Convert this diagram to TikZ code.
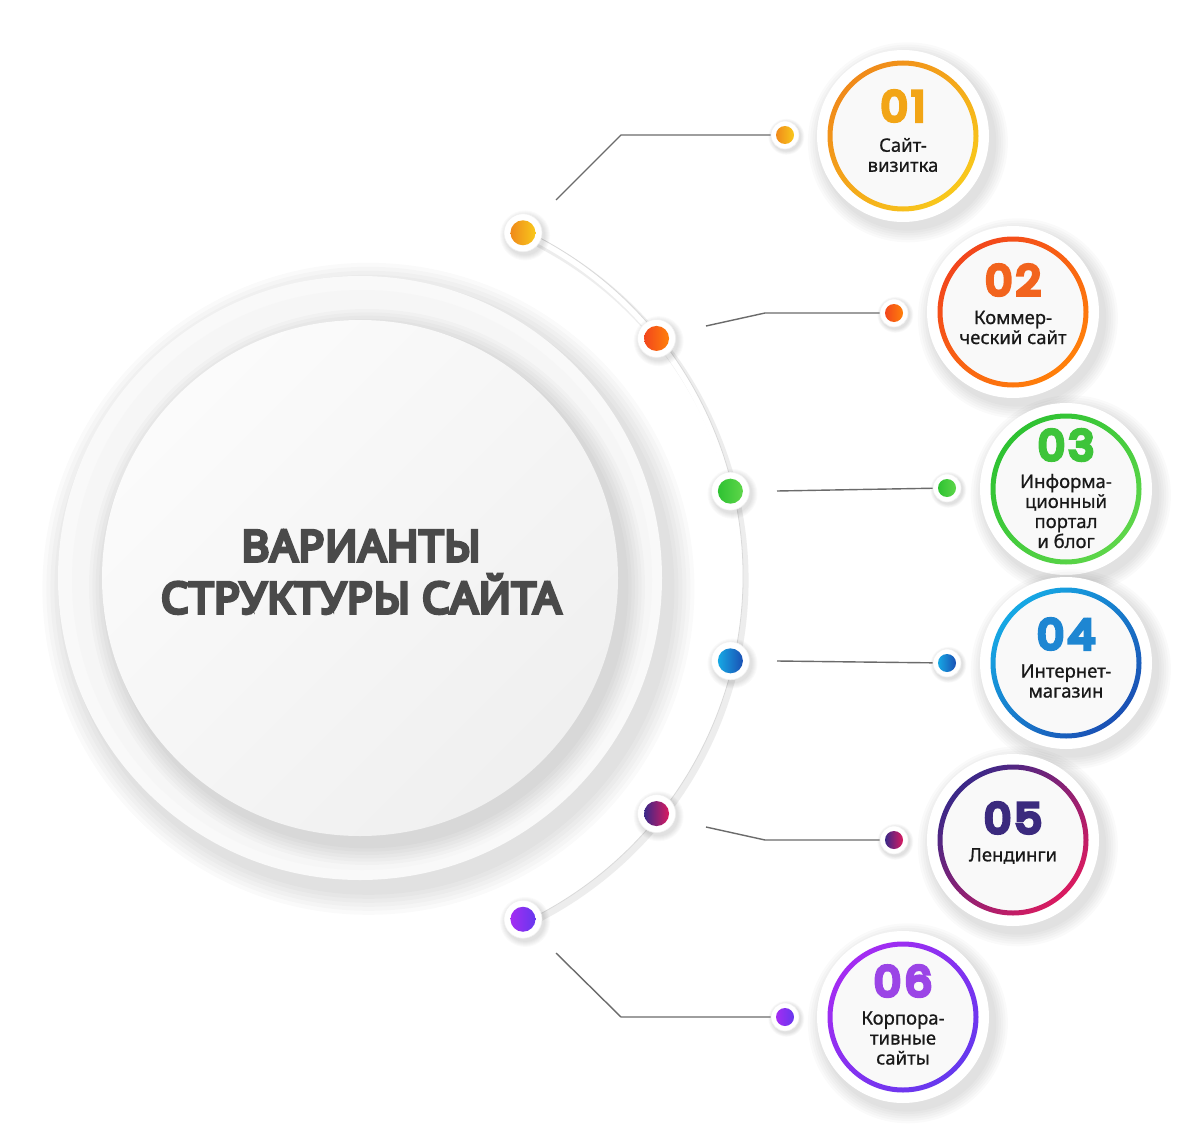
\documentclass[tikz,border=0pt]{standalone}
\usepackage{fontspec}
\setmainfont{Noto Sans}
\newfontfamily\numfont{Poppins}[FakeBold=10, FakeStretch=1.05, LetterSpace=9]
\newfontfamily\titlefont{Noto Sans}[FakeBold=8, LetterSpace=1.8]
\newfontfamily\labelfont{Noto Sans}[FakeBold=0.8]
\definecolor{ca1}{HTML}{F08A1A}
\definecolor{cb1}{HTML}{F8C81C}
\definecolor{cn1}{HTML}{F2A516}
\definecolor{ca2}{HTML}{F2461C}
\definecolor{cb2}{HTML}{FF800A}
\definecolor{cn2}{HTML}{F2641E}
\definecolor{ca3}{HTML}{2EC232}
\definecolor{cb3}{HTML}{5ED64A}
\definecolor{cn3}{HTML}{3EC43A}
\definecolor{ca4}{HTML}{16A8E4}
\definecolor{cb4}{HTML}{1A50B4}
\definecolor{cn4}{HTML}{1E86D2}
\definecolor{ca5}{HTML}{3A2888}
\definecolor{cb5}{HTML}{DA1B60}
\definecolor{cn5}{HTML}{3B2A7E}
\definecolor{ca6}{HTML}{A42CF2}
\definecolor{cb6}{HTML}{6538EE}
\definecolor{cn6}{HTML}{9B45E6}
\definecolor{titlegray}{HTML}{4A4A4A}
\definecolor{linkgray}{HTML}{6B6B6B}
\tikzset{
	ringdot/.style={circle, fill=white, draw=gray!12, line width=0.6, minimum size=#1, inner sep=0pt},
	colordot/.style 2 args={circle, minimum size=#2, inner sep=0pt, left color=ca#1, right color=cb#1},
	bigdisc/.style={circle, fill=white, minimum size=172, inner sep=0pt},
	numtext/.style={font=\numfont\fontsize{41}{41}\selectfont, inner sep=0pt},
	labeltext/.style={font=\labelfont\fontsize{18.5}{20}\selectfont, text=black!90, align=center, inner sep=0pt},
	titletext/.style={font=\titlefont\fontsize{43}{52}\selectfont, align=center, text=titlegray},
	link/.style={linkgray, line width=1.4}
}
% soft shadow: centre, radius, spread
\newcommand\softshadow[3]{%
	\foreach \k in {1,...,6}{\fill[black, opacity=0.018] ([shift={(#3*0.35,#3*0.45)}]#1) circle ({#2+\k*#3/6});}%
}
\begin{document}
\begin{tikzpicture}[x=1pt,y=-1pt]
	\useasboundingbox (0,0) rectangle (1200,1148);
	\fill[white] (0,0) rectangle (1200,1148);
	% % Central disc
	\softshadow{360,578}{302}{24}
	\fill[gray!5] (360,578) circle (302);
	\fill[gray!7] (362,580) circle (290);
	\softshadow{360,578}{258}{20}
	\shade[left color=gray!3, right color=gray!12, shading angle=45] (360,578) circle (258);
	\node[titletext] (title) at (361,572) {ВАРИАНТЫ\\СТРУКТУРЫ САЙТА};
	% % Arc band
	\draw[gray!14, line width=9] (364,580) ++(-64.6:380) arc (-64.6:64.6:380);
	\draw[white, line width=6] (360,576) ++(-64.6:380) arc (-64.6:64.6:380);
	\draw[gray!30, line width=0.8] (360,576) ++(-64.6:383) arc (-64.6:64.6:383);
	% % Dots on the arc
	\foreach \i/\a in {1/-64.6, 2/-38.7, 3/-12.9, 4/12.9, 5/38.7, 6/64.6}{
		\coordinate (p\i) at ([shift={(\a:380)}]360,576);
		\softshadow{p\i}{19}{6}
		\node[ringdot=38] (d\i) at (p\i) {};
		\node[colordot={\i}{25}] (dc\i) at (p\i) {};
	}
	% % Item circles with numbers
	\foreach \i/\x/\y/\ny in {1/903/136/-30, 2/1013/312/-32, 3/1066/489/-44, 4/1066/663/-29, 5/1013/840/-22, 6/903/1017/-36}{
		\softshadow{\x,\y}{86}{14}
		\node[bigdisc] (c\i) at (\x,\y) {};
		\fill[gray!5] (c\i.center) circle (71);
		\shade[left color=ca\i, right color=cb\i, shading angle=45, even odd rule] (c\i.center) circle (75.5) (c\i.center) circle (70.5);
		\node[numtext, text=cn\i] (n\i) at (\x,\y+\ny) {0\i};
	}
	% % Labels
	\node[labeltext] (l1) at (903,155) {Сайт-\\визитка};
	\node[labeltext] (l2) at (1013,327.5) {Коммер-\\ческий сайт};
	\node[labeltext] (l3) at (1066,511) {Информа-\\ционный\\портал\\и блог};
	\node[labeltext] (l4) at (1066,681) {Интернет-\\магазин};
	\node[labeltext] (l5) at (1013,856) {Лендинги};
	\node[labeltext] (l6) at (903,1038) {Корпора-\\тивные\\сайты};
	% % Connectors with end dots
	\foreach \i/\sx/\sy/\bx/\by/\ex/\ey in {
		1/556/200/621/135/785/135,
		2/706/326/765/313/894/313,
		3/777/491/860/489.5/947/488,
		4/777/661/860/662/947/663,
		5/706/827/765/840/894/840,
		6/556/953/621/1017/785/1017
	}{
		\coordinate (s\i) at (\sx,\sy);
		\coordinate (b\i) at (\bx,\by);
		\softshadow{\ex,\ey}{14}{4}
		\node[ringdot=28] (e\i) at (\ex,\ey) {};
		\node[colordot={\i}{18}] (ec\i) at (e\i) {};
		\draw[link] (s\i) -- (b\i) -- (e\i);
	}
\end{tikzpicture}
\end{document}
